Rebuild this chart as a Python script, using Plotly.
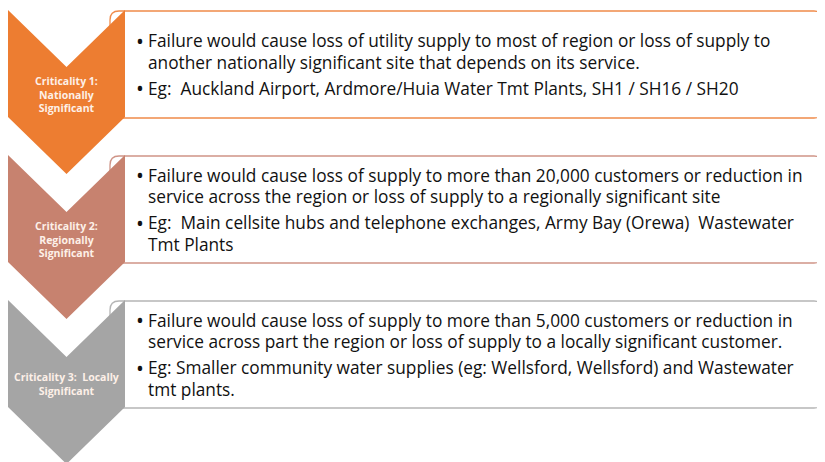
import plotly.graph_objects as go

# ---- data ----
levels = ["Criticality 1:<br>Nationally<br>Significant",
          "Criticality 2:<br>Regionally<br>Significant",
          "Criticality 3:  Locally<br>Significant"]
fill_colors = ["#ED7D31", "#C7826F", "#A5A5A5"]
border_colors = ["#F08B4A", "#CF9487", "#B5B5B5"]

bullets_1 = [
    ["Failure would cause loss of utility supply to most of region or loss of supply to",
     "another nationally significant site that depends on its service."],
    ["Eg:  Auckland Airport, Ardmore/Huia Water Tmt Plants, SH1 / SH16 / SH20"],
]
bullets_2 = [
    ["Failure would cause loss of supply to more than 20,000 customers or reduction in",
     "service across the region or loss of supply to a regionally significant site"],
    ["Eg:  Main cellsite hubs and telephone exchanges, Army Bay (Orewa)  Wastewater",
     "Tmt Plants"],
]
bullets_3 = [
    ["Failure would cause loss of supply to more than 5,000 customers or reduction in",
     "service across part the region or loss of supply to a locally significant customer."],
    ["Eg: Smaller community water supplies (eg: Wellsford, Wellsford) and Wastewater",
     "tmt plants."],
]
bullet_sets = [bullets_1, bullets_2, bullets_3]

# ---- layout geometry (pixels, page coordinates) ----
W, H = 825, 462
OFF = 8  # default page body margin
tops = [10, 155, 300]
XL, XR = 8, 125
XC = (XL + XR) / 2
NOTCH = 57
SIDE = 107
TIP = 164
BOX_R = 823
BOX_H = 107
RAD = 9
FONT = "Open Sans, Calibri, sans-serif"
TXT_SIZE = 17.3
LINE = 21.5
PARA = 26

fig = go.Figure()
shapes = []
annotations = []

for i, top in enumerate(tops):
    x0, x1, y0, y1 = 110, BOX_R, top + 1, top + 1 + BOX_H
    r = RAD
    path = (f"M {x0+r},{y0} L {x1-r},{y0} Q {x1},{y0} {x1},{y0+r} "
            f"L {x1},{y1-r} Q {x1},{y1} {x1-r},{y1} L {x0+r},{y1} "
            f"Q {x0},{y1} {x0},{y1-r} L {x0},{y0+r} Q {x0},{y0} {x0+r},{y0} Z")
    shapes.append(dict(type="path", path=path, xref="x", yref="y",
                       fillcolor="white", line=dict(color=border_colors[i], width=1.3),
                       layer="above"))

for i, top in enumerate(tops):
    path = (f"M {XL},{top} L {XC},{top+NOTCH} L {XR},{top} L {XR},{top+SIDE} "
            f"L {XC},{top+TIP} L {XL},{top+SIDE} Z")
    shapes.append(dict(type="path", path=path, xref="x", yref="y",
                       fillcolor=fill_colors[i], line=dict(width=0), layer="above"))
    annotations.append(dict(x=XC, y=top + 84, xref="x", yref="y",
                            text=f"<b>{levels[i]}</b>", showarrow=False,
                            font=dict(family=FONT, size=10.5, color="#FDF0E8"),
                            xanchor="center", yanchor="middle", align="center"))
    items = bullet_sets[i]
    n_lines = sum(len(it) for it in items)
    span = (n_lines - len(items)) * LINE + (len(items) - 1) * PARA
    y = top + 1 + BOX_H / 2 - span / 2
    for item in items:
        annotations.append(dict(x=140, y=y, xref="x", yref="y", text="•",
                                showarrow=False, xanchor="center", yanchor="middle",
                                font=dict(family=FONT, size=21, color="#111111")))
        for j, line in enumerate(item):
            annotations.append(dict(x=146, y=y, xref="x", yref="y", text=line,
                                    showarrow=False, xanchor="left", yanchor="middle",
                                    font=dict(family=FONT, size=TXT_SIZE, color="#111111")))
            y += LINE if j < len(item) - 1 else PARA

fig.update_layout(
    width=W - OFF, height=H - OFF, margin=dict(l=0, r=0, t=0, b=0),
    paper_bgcolor="white", plot_bgcolor="white",
    xaxis=dict(range=[OFF, W], visible=False, fixedrange=True),
    yaxis=dict(range=[H, OFF], visible=False, fixedrange=True),
    shapes=shapes, annotations=annotations, showlegend=False,
)
fig.write_html("out.html")
